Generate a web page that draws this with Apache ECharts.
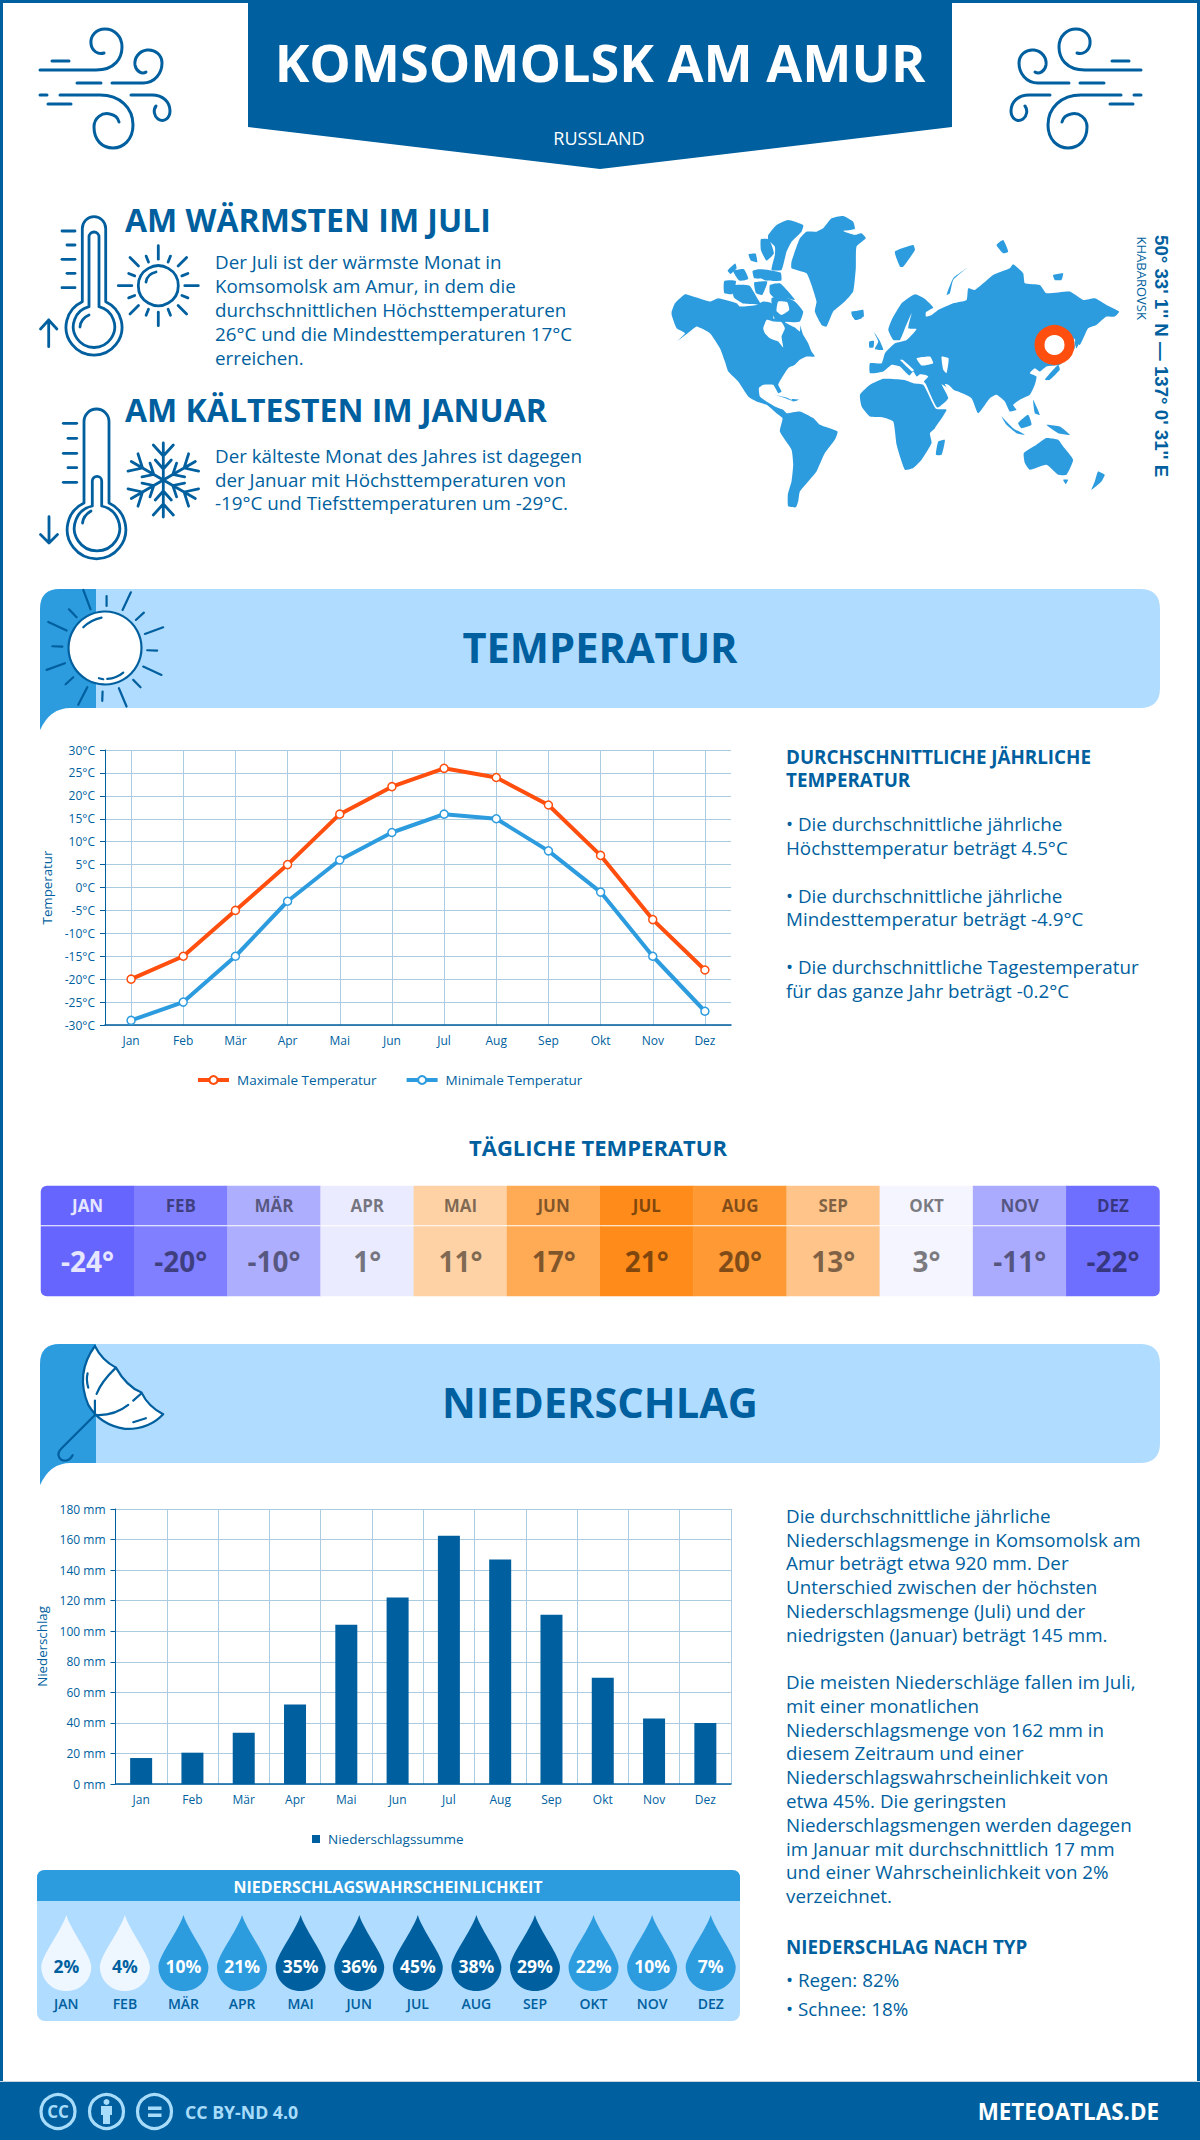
<!DOCTYPE html>
<html><head><meta charset="utf-8">
<style>html,body{margin:0;padding:0;background:#fff}#c{width:1200px;height:2140px}</style>
<script src="https://cdn.jsdelivr.net/npm/echarts@6/dist/echarts.min.js"></script>
</head><body><div id="c"></div>
<script>
const months=['Jan','Feb','Mär','Apr','Mai','Jun','Jul','Aug','Sep','Okt','Nov','Dez'];
const monthsUpper=['JAN','FEB','MÄR','APR','MAI','JUN','JUL','AUG','SEP','OKT','NOV','DEZ'];
const tempMax=[-20,-15,-5,5,16,22,26,24,18,7,-7,-18];
const tempMin=[-29,-25,-15,-3,6,12,16,15,8,-1,-15,-27];
const dailyTemp=[-24,-20,-10,1,11,17,21,20,13,3,-11,-22];
const dailyColors=['#6666ff','#7f7fff','#aeaeff','#ebebff','#ffd2a6','#ffaa55','#ff8c1a','#ff9933','#ffc48a','#f5f5ff','#aaaaff','#6f6fff'];
const precip=[17,20.5,33.5,52,104.3,122,162.5,147,110.8,69.6,42.8,40];
const precipProb=[2,4,10,21,35,36,45,38,29,22,10,7];
const seriesNames={max:'Maximale Temperatur',min:'Minimale Temperatur',rain:'Niederschlagssumme'};

const DARK='#005f9e',MID='#2d9cdf',LIGHT='#b0dcff';
const OS='"Open Sans"';
const BODY=18.8;
const g=[];
let pathCount=0;
function pathType(d){
  const name='decor'+(pathCount++);
  echarts.graphic.registerShape(name,echarts.graphic.extendPath(d,{}));
  return name;
}
function T(t,x,y,size,weight,color,align,extra){
  const o={type:'text',x:x,y:y,silent:true,style:{text:t,fill:color||DARK,font:(weight||400)+' '+size+'px '+OS,textAlign:align||'left',textVerticalAlign:'middle'}};
  if(extra)Object.assign(o,extra);
  g.push(o);
}
function S(d,x,y,sx,sy,lw,fill,stroke){ // decorative line-art path
  g.push({type:pathType(d),silent:true,x:x||0,y:y||0,scaleX:sx||1,scaleY:sy||1,style:{fill:fill||'none',stroke:stroke===undefined?DARK:stroke,lineWidth:lw||2.8,lineCap:'round',lineJoin:'round',strokeNoScale:true}});
}
function F(d,fill){g.push({type:pathType(d),silent:true,style:{fill:fill}});}
function P(points,ox,oy,fill){
  g.push({type:'polygon',silent:true,x:ox,y:oy,scaleX:1/3,scaleY:1/3,shape:{points:points,smooth:0.15},style:{fill:fill||MID}});
}
// page frame
g.push({type:'rect',silent:true,shape:{x:1.5,y:1.5,width:1197,height:2137},style:{fill:'#fff',stroke:DARK,lineWidth:3}});
// ribbon
g.push({type:'polygon',silent:true,shape:{points:[[248,0],[952,0],[952,127],[600,169],[248,127]]},style:{fill:DARK}});
T('KOMSOMOLSK AM AMUR',600,61,52.2,700,'#fff','center');
T('RUSSLAND',599,138,18,400,'#fff','center');
// wind
const wind=['M40 70H96C115 70 122 58 122 47C122 36 114 29 105 29C96 29 90 36 91 44C92 51 98 55 104 53',
'M112 83H143C155 83 162 73 162 63C162 55 155 49 147 50C139 51 134 58 135 65C136 71 142 75 146 72',
'M77 83H101','M52 61H69','M40 95H47','M60 95H100C120 95 133 108 133 125C133 140 123 148 113 148C102 148 94 140 94 127C94 118 102 112 110 114C115 115 118 118 119 122',
'M131 95H152C163 95 170 102 170 111C170 118 164 123 158 119C154 116 153 110 156 106','M48 104H71'];
wind.forEach(d=>{S(d,0,0,1,1,3);S(d,1181,0,-1,1,3);});
// headings
T('AM WÄRMSTEN IM JULI',125,219,32,700);
T('AM KÄLTESTEN IM JANUAR',125,409,32,700);
['Der Juli ist der wärmste Monat in','Komsomolsk am Amur, in dem die','durchschnittlichen Höchsttemperaturen','26°C und die Mindesttemperaturen 17°C','erreichen.'].forEach((l,i)=>T(l,215,262+i*24,BODY));
['Der kälteste Monat des Jahres ist dagegen','der Januar mit Höchsttemperaturen von','-19°C und Tiefsttemperaturen um -29°C.'].forEach((l,i)=>T(l,215,456+i*23.7,BODY));
// thermometers
S('M82.3 301.7V228.4A11.7 11.7 0 0 1 105.7 228.4V301.7A28 28 0 1 1 82.3 301.7Z');
S('M89 306.7V237A5 5 0 0 1 99 237V306.7A20.7 20.7 0 1 1 89 306.7Z');
S('M80 327C80 322 84 317 89 315');
[[62,231],[67,245],[62,259.3],[67,273.3],[62,287.7]].forEach(p=>S('M'+p[0]+' '+p[1]+'H75'));
S('M48.7 346.7V320M40.5 329L48.7 320L56.9 329');
S('M84 503V421.5A12.5 12.5 0 0 1 109 421.5V503A29.3 29.3 0 1 1 84 503Z');
S('M92.3 506V481A4.7 4.7 0 0 1 101.7 481V506A22.7 22.7 0 1 1 92.3 506Z');
S('M82.5 523C83 518 86 514 91 511');
[[63.3,423.3],[68,438.3],[63.3,453.3],[68,467.7],[63.3,482.3]].forEach(p=>S('M'+p[0]+' '+p[1]+'H76.7'));
S('M49 516.7V543M40.5 534.5L49 543L57.5 534.5');
// small sun
g.push({type:'circle',silent:true,shape:{cx:158.3,cy:285.7,r:20},style:{fill:'none',stroke:DARK,lineWidth:2.8}});
S('M146 282C147 276 151 273 156 272');
for(let i=0;i<16;i++){const a=i*Math.PI/8,long=i%4===0,mid=i%4===2,r0=mid?28:(long?26.5:25.5),r1=mid?40:(long?40:32);
  const c=Math.cos(a),s=Math.sin(a);
  S('M'+(158.3+c*r0).toFixed(1)+' '+(285.7+s*r0).toFixed(1)+'L'+(158.3+c*r1).toFixed(1)+' '+(285.7+s*r1).toFixed(1));}
// snowflake
for(let i=0;i<6;i++){const a=Math.PI/2+i*Math.PI/3,c=Math.cos(a),s=Math.sin(a),cx=163.3,cy=480;
  const pt=(r,o)=>(cx+c*r-s*o).toFixed(1)+' '+(cy+s*r+c*o).toFixed(1);
  S('M'+pt(0,0)+'L'+pt(37,0)+'M'+pt(20,-8)+'L'+pt(11,0)+'L'+pt(20,8)+'M'+pt(35,-10)+'L'+pt(24,0)+'L'+pt(35,10));}
// world map (west part traced in 3x units)
const W=[660,205];
P([[35,320],[45,295],[75,268],[100,275],[150,290],[175,280],[230,295],[240,305],[290,300],[310,290],[335,295],[345,320],[340,340],[365,345],[385,350],[400,350],[420,360],[430,390],[445,415],[455,440],[465,455],[440,455],[420,465],[405,480],[385,490],[365,520],[355,540],[365,560],[355,565],[340,540],[310,540],[297,550],[300,575],[320,590],[345,605],[370,615],[380,625],[420,620],[460,640],[480,660],[533,680],[525,705],[495,745],[470,800],[445,830],[420,860],[415,890],[408,908],[385,905],[384,868],[395,830],[400,780],[395,735],[360,680],[368,640],[350,625],[320,600],[290,590],[265,575],[235,530],[205,500],[195,470],[180,430],[150,385],[110,365],[90,380],[50,410],[75,385],[50,370],[35,330]],W[0],W[1]);
P([[335,280],[370,275],[405,290],[430,320],[420,350],[400,352],[345,342]],W[0],W[1]);
P([[310,370],[320,345],[340,350],[365,352],[375,370],[365,395],[370,428],[355,410],[330,400],[315,385]],W[0],W[1],'#fff');
P([[355,290],[382,292],[388,315],[365,330],[350,318]],W[0],W[1],'#fff');
P([[375,352],[420,355],[420,380],[405,368]],W[0],W[1],'#fff');
P([[395,170],[420,100],[440,80],[470,80],[490,70],[515,40],[550,33],[580,50],[585,72],[550,78],[585,90],[605,85],[618,100],[590,125],[588,190],[580,260],[555,290],[520,320],[500,365],[485,360],[465,320],[470,290],[455,240],[440,205],[395,190]],W[0],W[1]);
P([[325,90],[350,60],[385,45],[430,60],[425,80],[395,110],[380,140],[365,195],[335,195],[345,150],[345,125],[325,105]],W[0],W[1]);
P([[330,240],[360,235],[385,260],[405,285],[380,280],[345,280],[330,265]],W[0],W[1]);
P([[218,242],[268,242],[292,280],[302,298],[250,296],[222,278]],W[0],W[1]);
P([[193,228],[228,228],[218,267],[193,264]],W[0],W[1]);
P([[220,198],[252,193],[265,222],[238,227]],W[0],W[1]);
P([[203,197],[226,176],[230,190],[212,207]],W[0],W[1]);
P([[278,198],[297,193],[302,220],[283,220]],W[0],W[1]);
P([[303,103],[327,103],[342,145],[320,167],[303,135]],W[0],W[1]);
P([[283,233],[322,230],[307,270],[288,264]],W[0],W[1]);
P([[266,148],[287,146],[292,172],[273,167]],W[0],W[1]);
P([[298,193],[362,203],[364,227],[320,227],[298,217]],W[0],W[1]);
P([[575,320],[610,318],[612,335],[590,345],[578,335]],W[0],W[1]);
P([[345,570],[385,580],[402,590],[370,578]],W[0],W[1]);
P([[395,583],[418,585],[400,590]],W[0],W[1]);
// world map (east part)
const E=[850,225];
P([[60,415],[95,415],[105,385],[135,355],[170,345],[200,312],[175,310],[185,265],[165,310],[150,345],[130,345],[115,315],[125,285],[155,235],[195,208],[225,222],[250,248],[228,262],[228,275],[245,270],[265,255],[310,235],[350,225],[355,190],[375,195],[400,175],[430,150],[480,130],[490,118],[520,145],[525,175],[570,180],[590,205],[660,200],[700,225],[735,220],[770,240],[808,260],[795,275],[770,275],[740,300],[715,310],[690,360],[672,340],[675,370],[650,400],[630,420],[590,425],[570,440],[555,430],[540,445],[560,455],[555,480],[540,510],[510,525],[490,540],[500,555],[480,560],[465,530],[440,510],[420,520],[385,565],[365,520],[325,500],[295,490],[275,478],[295,520],[262,548],[228,478],[222,470],[235,455],[225,450],[210,448],[200,455],[190,440],[178,452],[150,425],[125,420],[100,440],[60,445]],E[0],E[1]);
P([[200,400],[240,395],[250,415],[215,422]],E[0],E[1],'#fff');
P([[275,395],[296,400],[290,445],[280,435]],E[0],E[1],'#fff');
P([[150,405],[158,405],[192,436],[186,440]],E[0],E[1],'#fff');
P([[285,478],[295,480],[320,505],[305,508]],E[0],E[1],'#fff');
P([[30,510],[60,480],[100,462],[160,465],[190,475],[220,480],[258,552],[290,555],[255,610],[240,625],[245,655],[215,705],[190,730],[165,735],[140,660],[130,590],[100,578],[60,575],[35,545]],E[0],E[1]);
P([[265,650],[285,645],[275,690],[258,690]],E[0],E[1]);
P([[522,685],[560,660],[590,640],[625,645],[640,665],[670,705],[650,750],[625,750],[590,720],[540,735],[525,715]],E[0],E[1]);
P([[640,765],[655,765],[648,778]],E[0],E[1]);
P([[745,740],[765,750],[755,770],[725,795],[735,770]],E[0],E[1]);
P([[455,575],[490,610],[525,630],[500,625],[470,600]],E[0],E[1]);
P([[505,595],[535,570],[545,600],[515,610]],E[0],E[1]);
P([[590,600],[630,605],[660,630],[625,625]],E[0],E[1]);
P([[550,525],[570,570],[555,565]],E[0],E[1]);
P([[585,465],[625,420],[630,435],[600,465]],E[0],E[1]);
P([[675,350],[710,295],[700,330],[680,370]],E[0],E[1]);
P([[135,80],[190,60],[195,75],[160,125],[150,125]],E[0],E[1]);
P([[290,210],[310,160],[350,130],[310,165],[300,205]],E[0],E[1]);
P([[440,60],[460,45],[475,80],[460,85]],E[0],E[1]);
P([[610,150],[640,145],[635,165],[615,165]],E[0],E[1]);
P([[72,322],[88,345],[100,375],[75,372],[85,350]],E[0],E[1]);
P([[58,350],[72,348],[70,368],[58,368]],E[0],E[1]);
P([[5,265],[40,255],[35,280],[15,285]],E[0],E[1]);
g.push({type:'circle',silent:true,shape:{cx:1054.5,cy:345,r:15},style:{fill:'#fff',stroke:'#ff4e0d',lineWidth:10}});
g.push({type:'text',x:1161.5,y:235,silent:true,rotation:-Math.PI/2,style:{text:"50° 33' 1'' N — 137° 0' 31'' E",fill:DARK,font:'700 18.7px "Liberation Sans"',textAlign:'left',textVerticalAlign:'middle'}});
T('KHABAROVSK',1142,236.5,13,400,DARK,'left',{rotation:-Math.PI/2});
// section bands
function band(top,label){
  const b=top+119,t=b+22;
  F(`M40 ${t}V${top+20}Q40 ${top} 60 ${top}H1140Q1160 ${top} 1160 ${top+20}V${b-20}Q1160 ${b} 1140 ${b}H70Q50 ${b} 40 ${t}Z`,LIGHT);
  F(`M40 ${t}V${top+20}Q40 ${top} 60 ${top}H96V${b}H70Q50 ${b} 40 ${t}Z`,MID);
  T(label,600,top+58,41.6,700,DARK,'center');
}
band(589,'TEMPERATUR');band(1344,'NIEDERSCHLAG');
// big sun
g.push({type:'circle',silent:true,shape:{cx:105,cy:648,r:36.5},style:{fill:'#fff',stroke:DARK,lineWidth:2.2}});
[[190,60,212,118],[260,78,260,108],[333,67,308,120],[372,128,348,150],[430,172,375,192],[412,242,382,241],[425,315,370,290],[362,352,340,330],[320,410,297,355],[248,365,247,393],[202,352,175,405],[160,322,137,343],[135,280,80,300],[127,230,97,229],[140,182,85,156],[170,142,147,118]].forEach(l=>S('M'+l[0]+' '+l[1]+'L'+l[2]+' '+l[3],20,570,1/3,1/3,2.2));
S('M190 172Q212 150 245 143',20,570,1/3,1/3,2.2);
S('M262 327Q290 325 310 308M237 325L250 328',20,570,1/3,1/3,2.2);
// umbrella
S('M225 48Q245 90 288 113Q320 170 365 188Q385 230 430 253Q385 300 315 297Q240 285 205 225Q165 130 225 48Z',20,1330,1/3,1/3,2.2,'#fff');
S('M288 113C255 145 238 170 230 192M225 212L225 255C270 258 300 245 325 225M340 212L365 190M203 130Q198 150 205 173M340 277L378 265M225 255L125 355C105 375 120 395 140 392Q152 388 158 376',20,1330,1/3,1/3,2.2);
// right column temperature
T('DURCHSCHNITTLICHE JÄHRLICHE',786,757,BODY,700);T('TEMPERATUR',786,780,BODY,700);
[['• Die durchschnittliche jährliche',824],['Höchsttemperatur beträgt 4.5°C',847.5],['• Die durchschnittliche jährliche',895.5],['Mindesttemperatur beträgt -4.9°C',919],['• Die durchschnittliche Tagestemperatur',966.5],['für das ganze Jahr beträgt -0.2°C',990.5]].forEach(l=>T(l[0],786,l[1],BODY));
T('TÄGLICHE TEMPERATUR',598,1147,22,700,DARK,'center');
// right column precipitation
[['Die durchschnittliche jährliche',1516],['Niederschlagsmenge in Komsomolsk am',1539.7],['Amur beträgt etwa 920 mm. Der',1563.4],['Unterschied zwischen der höchsten',1587.1],['Niederschlagsmenge (Juli) und der',1610.8],['niedrigsten (Januar) beträgt 145 mm.',1634.5],['Die meisten Niederschläge fallen im Juli,',1682],['mit einer monatlichen',1705.8],['Niederschlagsmenge von 162 mm in',1729.6],['diesem Zeitraum und einer',1753.4],['Niederschlagswahrscheinlichkeit von',1777.2],['etwa 45%. Die geringsten',1801],['Niederschlagsmengen werden dagegen',1824.8],['im Januar mit durchschnittlich 17 mm',1848.6],['und einer Wahrscheinlichkeit von 2%',1872.4],['verzeichnet.',1896.2],['• Regen: 82%',1980],['• Schnee: 18%',2009]].forEach(l=>T(l[0],786,l[1],BODY));
T('NIEDERSCHLAG NACH TYP',786,1947,BODY,700);
// probability panel
g.push({type:'rect',silent:true,shape:{x:37,y:1870,width:703,height:151,r:8},style:{fill:LIGHT}});
F('M37 1901V1878Q37 1870 45 1870H732Q740 1870 740 1878V1901Z',MID);
T('NIEDERSCHLAGSWAHRSCHEINLICHKEIT',388,1886.5,16,700,'#fff','center');
// footer
g.push({type:'rect',silent:true,shape:{x:0,y:2082,width:1200,height:58},style:{fill:DARK}});
g.push({type:'rect',silent:true,shape:{x:0,y:2081,width:1200,height:1},style:{fill:'#c9d5dd'}});
const CC='#a8dcfb';
[58,106.5,154.5].forEach(x=>g.push({type:'circle',silent:true,shape:{cx:x,cy:2111.5,r:17},style:{fill:'none',stroke:CC,lineWidth:3.2}}));
T('CC',58,2111.5,17,700,CC,'center');
g.push({type:'circle',silent:true,shape:{cx:106.5,cy:2102,r:3},style:{fill:CC}});
F('M101 2106H112V2115H110V2124H103V2115H101Z',CC);
g.push({type:'rect',silent:true,shape:{x:148,y:2106.5,width:13.5,height:3.5},style:{fill:CC}});
g.push({type:'rect',silent:true,shape:{x:148,y:2113.5,width:13.5,height:3.5},style:{fill:CC}});
T('CC BY-ND 4.0',185,2111.5,17.7,700,CC);
T('METEOATLAS.DE',1159,2111,22.4,700,'#fff','right');

const axisText={color:DARK,fontSize:12,fontFamily:OS};
const nameText={color:DARK,fontSize:13.3,fontFamily:OS};
const legendText={color:DARK,fontSize:13.5,fontFamily:OS,padding:[0,0,0,3]};
const gridLine={show:true,lineStyle:{color:'#abcbe0',width:1}};
const rainDrop='path://M50 0C60 32 100 80 100 102C100 129 78 150 50 150C22 150 0 129 0 102C0 80 40 32 50 0Z';
function cellRadius(i,top){
  if(i===0)return top?[6,0,0,0]:[0,0,0,6];
  if(i===11)return top?[0,6,0,0]:[0,0,6,0];
  return 0;
}
function cellText(i){return i===0?'#e6e6ff':'rgba(0,0,0,0.5)';}
function cells(top){return dailyTemp.map((v,i)=>({value:[i,0,v],itemStyle:{color:dailyColors[i],borderRadius:cellRadius(i,top)},label:{color:cellText(i)}}));}
function dropColor(p){return p<=4?'#eef7ff':(p<=22?MID:DARK);}

const option={
  animation:false,
  textStyle:{fontFamily:OS},
  graphic:{elements:g},
  legend:[
    {data:[seriesNames.max,seriesNames.min],left:196,top:1073,padding:0,itemWidth:31,itemHeight:10,itemGap:28,lineStyle:{width:4},textStyle:legendText,selectedMode:false},
    {data:[seriesNames.rain],left:312,top:1832,padding:0,itemWidth:8,itemHeight:8,textStyle:legendText,selectedMode:false,icon:'rect'}
  ],
  grid:[
    {left:105,top:750,width:626,height:275},
    {left:115.5,top:1509,width:615.5,height:275},
    {left:41,top:1186,width:1118.5,height:39},
    {left:41,top:1226.5,width:1118.5,height:69.5},
    {left:37,top:1915,width:703,height:76}
  ],
  xAxis:[
    {gridIndex:0,type:'category',data:months,axisLine:{onZero:false,lineStyle:{color:DARK,width:1.5}},axisTick:{show:false},axisLabel:Object.assign({margin:9},axisText),splitLine:Object.assign({alignWithLabel:true},gridLine)},
    {gridIndex:1,type:'category',data:months,axisLine:{onZero:false,lineStyle:{color:DARK,width:1.5}},axisTick:{show:false},axisLabel:Object.assign({margin:9},axisText),splitLine:gridLine},
    {gridIndex:2,type:'category',data:monthsUpper,show:false},
    {gridIndex:3,type:'category',data:monthsUpper,show:false},
    {gridIndex:4,type:'category',data:monthsUpper,axisLine:{show:false},axisTick:{show:false},axisLabel:{margin:5,color:DARK,fontSize:14,fontWeight:600,fontFamily:OS}}
  ],
  yAxis:[
    {gridIndex:0,type:'value',min:-30,max:30,interval:5,name:'Temperatur',nameLocation:'middle',nameGap:52,nameTextStyle:nameText,axisLine:{show:true,lineStyle:{color:DARK,width:1}},axisTick:{show:true,length:5,lineStyle:{color:DARK}},axisLabel:Object.assign({margin:10,formatter:'{value}°C'},axisText),splitLine:gridLine},
    {gridIndex:1,type:'value',min:0,max:180,interval:20,name:'Niederschlag',nameLocation:'middle',nameGap:62,nameTextStyle:nameText,axisLine:{show:true,lineStyle:{color:DARK,width:1}},axisTick:{show:true,length:5,lineStyle:{color:DARK}},axisLabel:Object.assign({margin:10,formatter:'{value} mm'},axisText),splitLine:gridLine},
    {gridIndex:2,type:'category',data:['m'],show:false},
    {gridIndex:3,type:'category',data:['t'],show:false},
    {gridIndex:4,type:'category',data:['p'],show:false}
  ],
  series:[
    {name:seriesNames.max,type:'line',xAxisIndex:0,yAxisIndex:0,data:tempMax,symbol:'circle',symbolSize:8,showAllSymbol:true,lineStyle:{color:'#ff4e0d',width:4},itemStyle:{color:'#fff',borderColor:'#ff4e0d',borderWidth:1.5}},
    {name:seriesNames.min,type:'line',xAxisIndex:0,yAxisIndex:0,data:tempMin,symbol:'circle',symbolSize:8,showAllSymbol:true,lineStyle:{color:MID,width:4},itemStyle:{color:'#fff',borderColor:MID,borderWidth:1.5}},
    {name:seriesNames.rain,type:'bar',xAxisIndex:1,yAxisIndex:1,data:precip,barWidth:22,itemStyle:{color:DARK}},
    {name:'Monat',type:'heatmap',xAxisIndex:2,yAxisIndex:2,data:cells(true),label:{show:true,fontSize:17,fontWeight:700,fontFamily:OS,formatter:p=>monthsUpper[p.value[0]]}},
    {name:'Tägliche Temperatur',type:'heatmap',xAxisIndex:3,yAxisIndex:3,data:cells(false),label:{show:true,fontSize:28,fontWeight:700,fontFamily:OS,formatter:p=>p.value[2]+'°'}},
    {name:'Niederschlagswahrscheinlichkeit',type:'scatter',xAxisIndex:4,yAxisIndex:4,symbol:rainDrop,symbolSize:[50,76],symbolKeepAspect:false,itemStyle:{opacity:1},
      data:precipProb.map((p,i)=>({value:[i,0,p],itemStyle:{color:dropColor(p),opacity:1},label:{color:p<=4?DARK:'#fff'}})),
      label:{show:true,position:'inside',offset:[0,13],fontSize:17.5,fontWeight:700,fontFamily:OS,formatter:p=>p.value[2]+'%'}}
  ]
};
const chart=echarts.init(document.getElementById('c'),null,{renderer:'svg',width:1200,height:2140});
chart.setOption(option);
</script></body></html>
